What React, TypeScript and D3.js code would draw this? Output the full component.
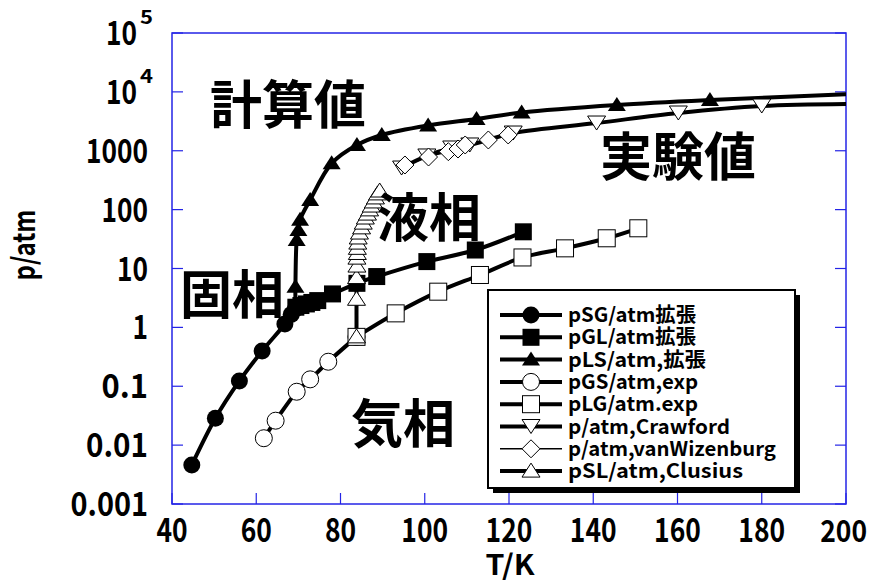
import React from "react";
import * as d3 from "d3";

const W = 872;
const H = 585;
const PLOT = { left: 172, right: 846, top: 33, bottom: 504 };

// Axes
const xTickValues = [40, 60, 80, 100, 120, 140, 160, 180, 200];
const yTickValues = [1e-3, 1e-2, 1e-1, 1, 10, 100, 1000, 1e4, 1e5];
const yTickBase = ["0.001", "0.01", "0.1", "1", "10", "100", "1000", "10", "10"];
const yTickSup = ["", "", "", "", "", "", "", "4", "5"];
const xTitle = "T/K";
const yTitle = "p/atm";

// pSG/atm 拡張 (filled circles)
const sgT = [44.7, 50.3, 56.0, 61.4, 66.8, 68.3, 69.3];
const sgP = [0.0046, 0.0286, 0.123, 0.397, 1.14, 1.65, 2.05];

// pGL/atm 拡張 (filled squares)
const glT = [69.4, 70.6, 71.9, 73.2, 74.6, 78.1, 83.9, 88.6, 100.5, 112.0, 123.4];
const glP = [2.2, 2.35, 2.5, 2.65, 2.85, 3.7, 5.6, 7.3, 13.1, 20.6, 42];

// pLS/atm, 拡張 (filled triangles) + curve start/end
const lsT = [69.3, 69.6, 70.0, 70.4, 72.8, 77.9, 83.9, 89.8, 100.8, 112.3, 123.0, 145.6, 167.7];
const lsP = [4.9, 30.5, 45, 67, 146, 612, 1253, 1854, 2685, 3459, 4467, 5985, 7277];
const lsLineT = [69.3, ...lsT, 200];
const lsLineP = [2.3, ...lsP, 9100];

// pGS/atm, exp (open circles)
const gsT = [61.8, 64.6, 69.6, 72.8, 77.1, 83.8];
const gsP = [0.0131, 0.026, 0.0807, 0.131, 0.261, 0.69];

// pLG/atm.exp (open squares)
const lgT = [83.8, 93.1, 103.2, 113.1, 123.2, 133.3, 143.2, 150.7];
const lgP = [0.69, 1.73, 4.04, 7.76, 15.4, 22, 32.6, 48.2];

// p/atm, Crawford (open down triangles)
const crT = [94.5, 100.5, 106.4, 110.7, 121.0, 140.8, 160.2, 180.0];
const crP = [509, 815, 1114, 1253, 2000, 2958, 4375, 5754];
const crLineT = [...crT, 200];
const crLineP = [...crP, 6225];

// p/atm, vanWizenburg (open diamonds)
const vwT = [95.3, 100.9, 105.6, 107.9, 109.6, 115.1, 119.8];
const vwP = [573, 783, 964, 1071, 1253, 1524, 1854];

// pSL/atm, Clusius (open triangles)
const clT = [83.8, 83.8, 83.8, 83.9, 83.9, 84.0, 84.0, 84.1, 84.2, 84.5, 85.0, 85.4, 85.9, 86.4, 86.9, 87.3, 87.8, 88.3, 88.8, 89.3];
const clP = [0.69, 3.0, 7.0, 11, 15, 18, 22, 27, 33, 40, 49, 59, 72, 84, 99, 115, 135, 158, 185, 207];

const legendLabels = [
  "pSG/atm拡張",
  "pGL/atm拡張",
  "pLS/atm,拡張",
  "pGS/atm,exp",
  "pLG/atm.exp",
  "p/atm,Crawford",
  "p/atm,vanWizenburg",
  "pSL/atm,Clusius",
];
const legendTextWidths = [128, 128, 138, 130, 130, 162, 208, 175];

const regionLabels = ["計算値", "実験値", "液相", "固相", "気相"];
const regionLabelPos = [
  [210, 124],
  [600, 176],
  [377, 237],
  [180, 314],
  [351, 443],
];

type MarkerType =
  | "circleFilled"
  | "squareFilled"
  | "triFilled"
  | "circleOpen"
  | "squareOpen"
  | "triDownOpen"
  | "diamondOpen"
  | "triOpen";

const series: {
  name: string;
  T: number[];
  P: number[];
  lineT: number[];
  lineP: number[];
  marker: MarkerType;
  lw: number;
}[] = [
  { name: legendLabels[0], T: sgT, P: sgP, lineT: sgT, lineP: sgP, marker: "circleFilled", lw: 4 },
  { name: legendLabels[1], T: glT, P: glP, lineT: glT, lineP: glP, marker: "squareFilled", lw: 4 },
  { name: legendLabels[2], T: lsT, P: lsP, lineT: lsLineT, lineP: lsLineP, marker: "triFilled", lw: 4 },
  { name: legendLabels[3], T: gsT, P: gsP, lineT: gsT, lineP: gsP, marker: "circleOpen", lw: 4 },
  { name: legendLabels[4], T: lgT, P: lgP, lineT: lgT, lineP: lgP, marker: "squareOpen", lw: 4 },
  { name: legendLabels[5], T: crT, P: crP, lineT: crLineT, lineP: crLineP, marker: "triDownOpen", lw: 4 },
  { name: legendLabels[6], T: vwT, P: vwP, lineT: vwT, lineP: vwP, marker: "diamondOpen", lw: 1.5 },
  { name: legendLabels[7], T: clT, P: clP, lineT: clT, lineP: clP, marker: "triOpen", lw: 4 },
];

const FONT = "'Noto Sans CJK JP', 'Noto Sans', sans-serif";
const AXIS_BLUE = "#2424e6";

function Marker({ type, x, y }: { type: MarkerType; x: number; y: number }) {
  const s = 8.5;
  switch (type) {
    case "circleFilled":
      return <circle cx={x} cy={y} r={s} fill="#000" />;
    case "squareFilled":
      return <rect x={x - s} y={y - s} width={2 * s} height={2 * s} fill="#000" />;
    case "triFilled":
      return <polygon points={`${x},${y - 8} ${x + 9},${y + 6} ${x - 9},${y + 6}`} fill="#000" />;
    case "circleOpen":
      return <circle cx={x} cy={y} r={s} fill="#fff" stroke="#000" strokeWidth={1} />;
    case "squareOpen":
      return <rect x={x - s} y={y - s} width={2 * s} height={2 * s} fill="#fff" stroke="#000" strokeWidth={1} />;
    case "triDownOpen":
      return <polygon points={`${x - 9},${y - 7} ${x + 9},${y - 7} ${x},${y + 7}`} fill="#fff" stroke="#000" strokeWidth={1} />;
    case "diamondOpen":
      return <polygon points={`${x},${y - 9} ${x + 9},${y} ${x},${y + 9} ${x - 9},${y}`} fill="#fff" stroke="#000" strokeWidth={1} />;
    case "triOpen":
      return <polygon points={`${x},${y - 8} ${x + 9},${y + 6} ${x - 9},${y + 6}`} fill="#fff" stroke="#000" strokeWidth={1} />;
  }
  return null;
}

export default function App() {
  const x = d3.scaleLinear().domain([40, 200]).range([PLOT.left, PLOT.right]);
  const y = d3.scaleLog().domain([1e-3, 1e5]).range([PLOT.bottom, PLOT.top]);

  const lineGen = d3
    .line<[number, number]>()
    .x((d) => x(d[0]))
    .y((d) => y(d[1]))
    .curve(d3.curveCatmullRom.alpha(0.5));

  const tickLen = 11;
  const legend = { x: 488, y: 290, w: 307, h: 198, rowY0: 315, rowDy: 22.3 };

  return (
    <svg width={W} height={H} style={{ display: "block", position: "absolute", left: 0, top: 0, background: "#fff" }}>
      <defs>
        <clipPath id="plotClip">
          <rect x={PLOT.left} y={PLOT.top} width={PLOT.right - PLOT.left} height={PLOT.bottom - PLOT.top} />
        </clipPath>
      </defs>
      <rect x={0} y={0} width={W} height={H} fill="#fff" />

      {/* frame */}
      <rect
        x={PLOT.left}
        y={PLOT.top}
        width={PLOT.right - PLOT.left}
        height={PLOT.bottom - PLOT.top}
        fill="none"
        stroke={AXIS_BLUE}
        strokeWidth={1.5}
      />
      {yTickValues.map((v, i) => (
        <g key={"yt" + i}>
          <line x1={PLOT.left} x2={PLOT.left + tickLen} y1={y(v)} y2={y(v)} stroke={AXIS_BLUE} strokeWidth={1.2} />
          <line x1={PLOT.right} x2={PLOT.right - tickLen} y1={y(v)} y2={y(v)} stroke={AXIS_BLUE} strokeWidth={1.2} />
        </g>
      ))}
      {xTickValues.map((v, i) => (
        <line key={"xt" + i} x1={x(v)} x2={x(v)} y1={PLOT.bottom} y2={PLOT.bottom - tickLen} stroke={AXIS_BLUE} strokeWidth={1.2} />
      ))}

      {/* tick labels */}
      <g fontFamily={FONT} fontWeight={700} fill="#000">
        {yTickValues.map((v, i) =>
          yTickSup[i] ? (
            <g key={"yl" + i}>
              <text x={137} y={y(v) + 12} fontSize={33} textAnchor="end" textLength={31} lengthAdjust="spacingAndGlyphs">
                {yTickBase[i]}
              </text>
              <text x={140} y={y(v) - 9} fontSize={19} textLength={13} lengthAdjust="spacingAndGlyphs">
                {yTickSup[i]}
              </text>
            </g>
          ) : (
            <text
              key={"yl" + i}
              x={148}
              y={y(v) + 12}
              fontSize={33}
              textAnchor="end"
              textLength={yTickBase[i].length * 15.5}
              lengthAdjust="spacingAndGlyphs"
            >
              {yTickBase[i]}
            </text>
          )
        )}
        {xTickValues.map((v, i) =>
          v === 200 ? (
            <text
              key={"xl" + i}
              x={x(v) + 21}
              y={542}
              fontSize={31}
              textAnchor="end"
              textLength={String(v).length * 15.6}
              lengthAdjust="spacingAndGlyphs"
            >
              {String(v)}
            </text>
          ) : (
            <text
              key={"xl" + i}
              x={x(v)}
              y={542}
              fontSize={33}
              textAnchor="middle"
              textLength={String(v).length * 15.6}
              lengthAdjust="spacingAndGlyphs"
            >
              {String(v)}
            </text>
          )
        )}
        <text x={510} y={575} fontSize={28} textAnchor="middle" textLength={49} lengthAdjust="spacingAndGlyphs">
          {xTitle}
        </text>
        <text
          transform="translate(35,245) rotate(-90)"
          fontSize={31}
          textAnchor="middle"
          textLength={71}
          lengthAdjust="spacingAndGlyphs"
        >
          {yTitle}
        </text>
      </g>

      {/* lines */}
      <g clipPath="url(#plotClip)">
        {series.map((s, i) => (
          <path
            key={"ln" + i}
            d={lineGen(s.lineT.map((t, j) => [t, s.lineP[j]] as [number, number])) || ""}
            fill="none"
            stroke="#000"
            strokeWidth={s.lw}
            strokeLinejoin="round"
          />
        ))}
      </g>

      {/* markers */}
      <g>
        {series.map((s, i) => (
          <g key={"mk" + i}>
            {s.T.map((t, j) => (
              <Marker key={j} type={s.marker} x={x(t)} y={y(s.P[j])} />
            ))}
          </g>
        ))}
      </g>

      {/* region labels */}
      <g fontFamily={FONT} fontWeight={700} fontSize={52} fill="#000">
        {regionLabels.map((t, i) => (
          <text key={"rl" + i} x={regionLabelPos[i][0]} y={regionLabelPos[i][1]}>
            {t}
          </text>
        ))}
      </g>

      {/* legend */}
      <g>
        <rect x={legend.x + 5} y={legend.y + 5} width={legend.w} height={legend.h} fill="#000" />
        <rect x={legend.x} y={legend.y} width={legend.w} height={legend.h} fill="#fff" stroke="#000" strokeWidth={2} />
        {series.map((s, i) => {
          const ry = legend.rowY0 + i * legend.rowDy;
          return (
            <g key={"lg" + i}>
              <line x1={500} x2={562} y1={ry} y2={ry} stroke="#000" strokeWidth={s.lw} />
              <Marker type={s.marker} x={531} y={ry} />
              <text
                x={568}
                y={ry + 7}
                fontFamily={FONT}
                fontWeight={700}
                fontSize={20}
                textLength={legendTextWidths[i]}
                lengthAdjust="spacingAndGlyphs"
              >
                {s.name}
              </text>
            </g>
          );
        })}
      </g>
    </svg>
  );
}
